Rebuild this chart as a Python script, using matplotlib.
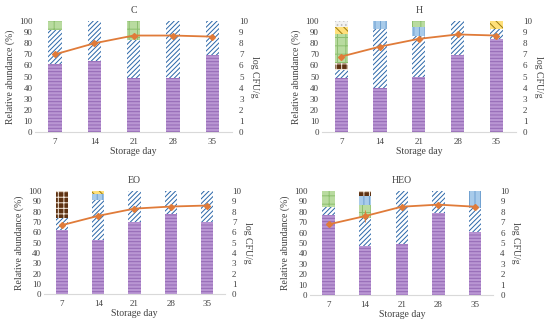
import numpy as np
import matplotlib.pyplot as plt

plt.rcParams['font.family'] = ['Liberation Serif', 'DejaVu Serif']
plt.rcParams['hatch.linewidth'] = 0.7

days = [7, 14, 21, 28, 35]

# taxon styles: facecolor, hatch colour, hatch
styles = {
    'purple': ('#b996d3', '#9468b5', '-----'),
    'blue': ('white', '#2a66a8', '///////'),
    'green': ('#b9dba0', '#8cbf6e', '++'),
    'lightblue': ('#a8cbea', '#6e9fd0', '|||'),
    'yellow': ('#ffe07a', '#9a7a10', '\\\\\\\\'),
    'brown': ('#5e3212', '#f3e8dc', '+++'),
    'gray': ('#f2f2f2', '#bdbdbd', '....'),
}

# stacking order and relative abundance (%) per panel
C_order = ['purple', 'blue', 'green']
C_abund = [[61, 64, 49, 49, 69],
           [31, 36, 34, 51, 31],
           [8, 0, 17, 0, 0]]
C_log = [7.0, 8.0, 8.7, 8.7, 8.6]
C_err = [0.1, 0.1, 0.1, 0.1, 0.1]

H_order = ['purple', 'blue', 'brown', 'lightblue', 'green', 'yellow', 'gray']
H_abund = [[49, 40, 50, 69, 84],
           [7, 53, 37, 31, 9],
           [6, 0, 0, 0, 0],
           [0, 7, 8, 0, 0],
           [26, 0, 5, 0, 0],
           [7, 0, 0, 0, 7],
           [5, 0, 0, 0, 0]]
H_log = [6.8, 7.7, 8.4, 8.8, 8.7]
H_err = [0.1, 0.2, 0.15, 0.1, 0.1]

EO_order = ['purple', 'blue', 'brown', 'lightblue', 'yellow']
EO_abund = [[62, 53, 70, 78, 70],
            [12, 38, 30, 22, 30],
            [26, 0, 0, 0, 0],
            [0, 6, 0, 0, 0],
            [0, 3, 0, 0, 0]]
EO_log = [6.7, 7.6, 8.3, 8.5, 8.6]
EO_err = [0.1, 0.1, 0.1, 0.1, 0.1]

HEO_order = ['purple', 'blue', 'green', 'lightblue', 'brown']
HEO_abund = [[77, 47, 49, 79, 61],
             [8, 27, 51, 21, 23],
             [15, 13, 0, 0, 0],
             [0, 8, 0, 0, 16],
             [0, 5, 0, 0, 0]]
HEO_log = [6.8, 7.6, 8.5, 8.7, 8.5]
HEO_err = [0.1, 0.6, 0.1, 0.1, 0.1]

panels = [
    ('C', C_order, C_abund, C_log, C_err, [0.064, 0.594, 0.358, 0.341]),
    ('H', H_order, H_abund, H_log, H_err, [0.585, 0.594, 0.353, 0.341]),
    ('EO', EO_order, EO_abund, EO_log, EO_err, [0.080, 0.095, 0.329, 0.317]),
    ('HEO', HEO_order, HEO_abund, HEO_log, HEO_err, [0.564, 0.092, 0.333, 0.320]),
]

txt = '#404040'
fig = plt.figure(figsize=(5.5, 3.25), dpi=100)
x = np.arange(len(days))

for title, order, abund, logv, err, pos in panels:
    ax = fig.add_axes(pos)
    bottom = np.zeros(len(days))
    for name, vals in zip(order, abund):
        fc, hc, hatch = styles[name]
        ax.bar(x, vals, width=0.34, bottom=bottom, color=fc, edgecolor=hc,
               hatch=hatch, linewidth=0)
        bottom += np.array(vals)
    ax.set_ylim(0, 100)
    ax.set_xlim(-0.5, len(days) - 0.5)
    ax.set_yticks(range(0, 101, 10))
    ax.set_xticks(x)
    ax.set_xticklabels(days)
    for s in ['top', 'left', 'right']:
        ax.spines[s].set_visible(False)
    ax.spines['bottom'].set_color('#d9d9d9')
    ax.tick_params(axis='y', length=0, labelsize=6.5, colors=txt, pad=2)
    ax.tick_params(axis='x', length=0, labelsize=6.5, colors=txt, pad=4)
    ax.set_ylabel('Relative abundance (%)', fontsize=7, color=txt, labelpad=3)
    ax.set_xlabel('Storage day', fontsize=7, color=txt, labelpad=1)
    ax.set_title(title, fontsize=7, color=txt, pad=6)

    ax2 = ax.twinx()
    ax2.errorbar(x, logv, yerr=err, color='#e07b39', lw=1.3, marker='D',
                 ms=3, ecolor='#e07b39', elinewidth=0.6, capsize=0)
    ax2.set_ylim(0, 10)
    ax2.set_yticks(range(0, 11))
    for s in ['top', 'left', 'right', 'bottom']:
        ax2.spines[s].set_visible(False)
    ax2.tick_params(length=0, labelsize=6.5, colors=txt, pad=5)
    ax2.set_ylabel('log CFU/g', fontsize=7, color=txt, rotation=270, labelpad=8)

fig.savefig('out.png', dpi=100)
